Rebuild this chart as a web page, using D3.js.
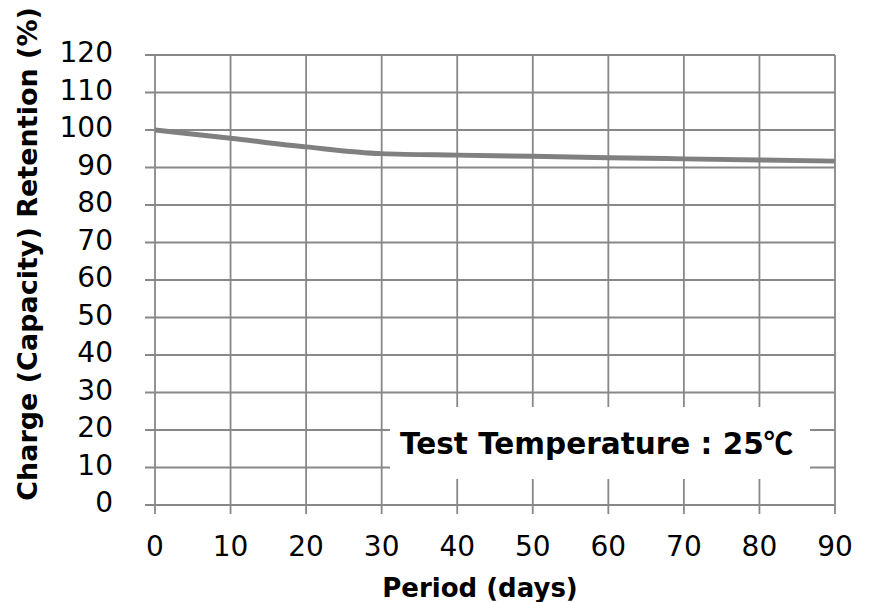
<!DOCTYPE html>
<html>
<head>
<meta charset="utf-8">
<script src="https://cdn.jsdelivr.net/npm/d3@7"></script>
<style>
  html, body { margin: 0; padding: 0; background: #fff; }
  svg { display: block; font-family: "DejaVu Sans", Verdana, sans-serif; }
</style>
</head>
<body>
<svg id="chart" width="873" height="602"></svg>
<script>
// 数据：保持率随天数变化
const days = [0, 10, 20, 30, 40, 50, 60, 70, 80, 90];
const retention = [100, 97.8, 95.5, 93.7, 93.3, 93.0, 92.6, 92.3, 92.0, 91.7];
const xTicks = [0, 10, 20, 30, 40, 50, 60, 70, 80, 90];
const yTicks = [0, 10, 20, 30, 40, 50, 60, 70, 80, 90, 100, 110, 120];
const xTitle = 'Period (days)';
const yTitle = 'Charge (Capacity) Retention (%)';
const noteText = 'Test Temperature : 25';
const noteUnit = '℃';

const plot = { left: 155, right: 835, top: 55, bottom: 505 };
const gridColor = '#888888';

const svg = d3.select('#chart');

const x = d3.scaleLinear().domain([0, 90]).range([plot.left, plot.right]);
const y = d3.scaleLinear().domain([0, 120]).range([plot.bottom, plot.top]);

// 网格线（含伸出的刻度）
const grid = svg.append('g').attr('stroke', gridColor).attr('stroke-width', 1.8);

grid.selectAll('line.h')
  .data(yTicks)
  .enter()
  .append('line')
  .attr('class', 'h')
  .attr('x1', plot.left - 10)
  .attr('x2', plot.right)
  .attr('y1', d => y(d))
  .attr('y2', d => y(d));

grid.selectAll('line.v')
  .data(xTicks)
  .enter()
  .append('line')
  .attr('class', 'v')
  .attr('x1', d => x(d))
  .attr('x2', d => x(d))
  .attr('y1', plot.top)
  .attr('y2', plot.bottom + 9);

// 注释背景框
svg.append('rect')
  .attr('x', 390)
  .attr('y', 407)
  .attr('width', 420)
  .attr('height', 72)
  .attr('fill', '#fff');

const note = svg.append('text')
  .attr('x', 400)
  .attr('y', 454)
  .attr('font-size', 29.5)
  .attr('font-weight', 'bold')
  .attr('fill', '#000');
note.append('tspan').text(noteText);
note.append('tspan')
  .attr('font-family', '"Noto Sans CJK JP", sans-serif')
  .text(noteUnit);

// 刻度标签
svg.append('g')
  .selectAll('text')
  .data(yTicks)
  .enter()
  .append('text')
  .attr('x', 113)
  .attr('y', d => y(d) + 7)
  .attr('text-anchor', 'end')
  .attr('font-size', 28)
  .attr('fill', '#000')
  .text(d => d);

svg.append('g')
  .selectAll('text')
  .data(xTicks)
  .enter()
  .append('text')
  .attr('x', d => x(d))
  .attr('y', 556)
  .attr('text-anchor', 'middle')
  .attr('font-size', 28)
  .attr('fill', '#000')
  .text(d => d);

// 坐标轴标题
svg.append('text')
  .attr('x', 480)
  .attr('y', 597)
  .attr('text-anchor', 'middle')
  .attr('font-size', 26)
  .attr('font-weight', 'bold')
  .text(xTitle);

svg.append('text')
  .attr('transform', 'translate(37,254) rotate(-90)')
  .attr('text-anchor', 'middle')
  .attr('font-size', 27)
  .attr('font-weight', 'bold')
  .text(yTitle);

// 数据曲线
const line = d3.line()
  .x((d, i) => x(days[i]))
  .y(d => y(d))
  .curve(d3.curveMonotoneX);

svg.append('path')
  .datum(retention)
  .attr('d', line)
  .attr('fill', 'none')
  .attr('stroke', '#808080')
  .attr('stroke-width', 5)
  .attr('stroke-linecap', 'butt');
</script>
</body>
</html>
